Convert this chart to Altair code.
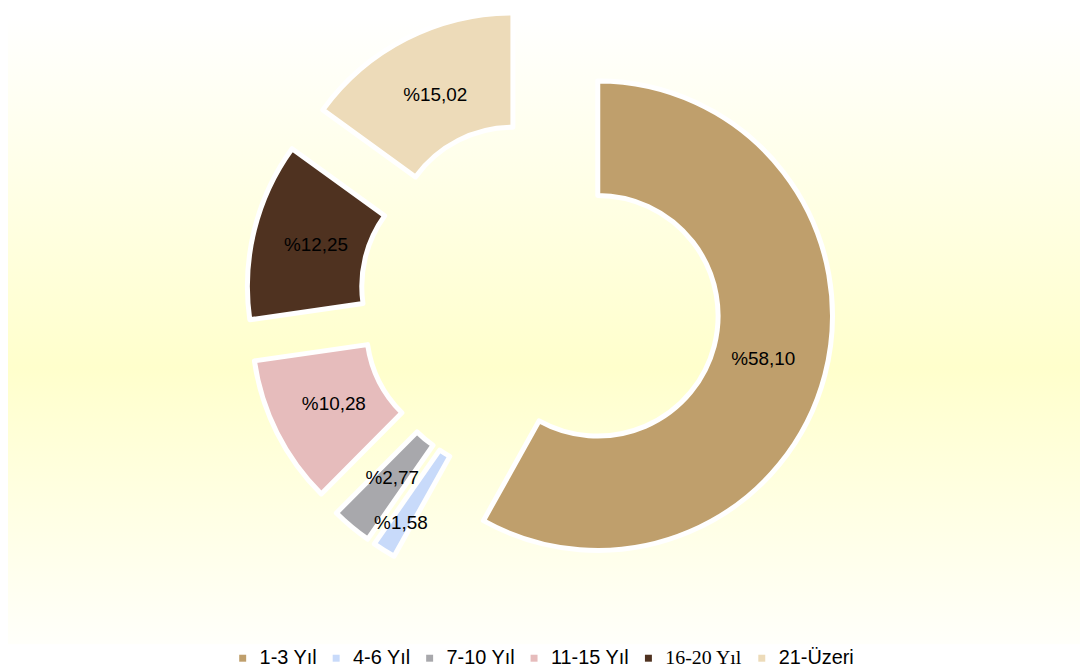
import math
import altair as alt
import pandas as pd

# ---- data ----
categories = ["1-3 Yıl", "4-6 Yıl", "7-10 Yıl", "11-15 Yıl", "16-20 Yıl", "21-Üzeri"]
values = [58.10, 1.58, 2.77, 10.28, 12.25, 15.02]
colors = ["#bf9f6c", "#c8dafa", "#a8a8ac", "#e6bcbc", "#4f3220", "#eddbb9"]
labels = ["%" + f"{v:.2f}".replace(".", ",") for v in values]

df = pd.DataFrame({
    "kategori": categories,
    "deger": values,
    "etiket": labels,
    "sira": list(range(len(categories))),
})

# ---- layout (style) ----
W, H = 1078, 632
CX, CY = 535, 286.5
EXPLODE = 60
R_OUT, R_IN = 236, 121
LABEL_R = 172
SMALL_PUSH = 32   # labels of very thin slices are pushed outward
FONT = "Liberation Sans"

bg = alt.Chart(alt.Data(values=[{"a": 1}])).mark_rect(
    fill=alt.Gradient(
        gradient="linear",
        stops=[
            alt.GradientStop(color="#ffffff", offset=0),
            alt.GradientStop(color="#ffffcc", offset=0.56),
            alt.GradientStop(color="#fffffa", offset=1),
        ],
        x1=0, x2=0, y1=0, y2=1,
    )
).encode(x=alt.value(0), x2=alt.value(W), y=alt.value(0), y2=alt.value(H))

base = alt.Chart(df).transform_joinaggregate(
    total="sum(deger)"
).transform_window(
    cum="sum(deger)", sort=[alt.SortField("sira")], frame=[None, 0]
).transform_calculate(
    end="datum.cum / datum.total",
    start="(datum.cum - datum.deger) / datum.total",
    mid="2*PI*(datum.cum - datum.deger/2) / datum.total",
    ox=f"{CX} + {EXPLODE}*sin(datum.mid)",
    oy=f"{CY} - {EXPLODE}*cos(datum.mid)",
    lr=f"{LABEL_R} + (datum.deger / datum.total < 0.02 ? {SMALL_PUSH} : 0)",
    lx="datum.ox + datum.lr*sin(datum.mid)",
    ly="datum.oy - datum.lr*cos(datum.mid)",
)

legend_label_font = (
    "datum.label === '16-20 Yıl' ? 'Liberation Serif' : 'Liberation Sans'"
)

arcs = base.mark_arc(
    radius=R_OUT, radius2=R_IN, stroke="white", strokeWidth=5, strokeJoin="round"
).encode(
    theta=alt.Theta("start:Q", scale=alt.Scale(domain=[0, 1], range=[0, 2 * math.pi]), stack=None),
    theta2=alt.Theta2("end:Q"),
    x=alt.X("ox:Q", scale=None),
    y=alt.Y("oy:Q", scale=None),
    color=alt.Color(
        "kategori:N",
        scale=alt.Scale(domain=categories, range=colors),
        sort=categories,
        legend=alt.Legend(
            title=None,
            orient="none",
            legendX=226,
            legendY=636,
            direction="horizontal",
            columns=6,
            symbolType="square",
            symbolSize=49,
            symbolStrokeWidth=0,
            labelFontSize=20,
            labelFont=alt.ExprRef(expr=legend_label_font),
            labelColor="black",
            labelOffset=7,
            columnPadding=9,
        ),
    ),
)

texts = base.mark_text(font=FONT, fontSize=19, color="black").encode(
    x=alt.X("lx:Q", scale=None),
    y=alt.Y("ly:Q", scale=None),
    text="etiket:N",
)

chart = alt.layer(bg, arcs, texts).properties(
    width=W, height=H, padding=0, background="white"
).configure_view(strokeWidth=0)

chart.save("out.html", embed_options={"renderer": "svg", "actions": False})
